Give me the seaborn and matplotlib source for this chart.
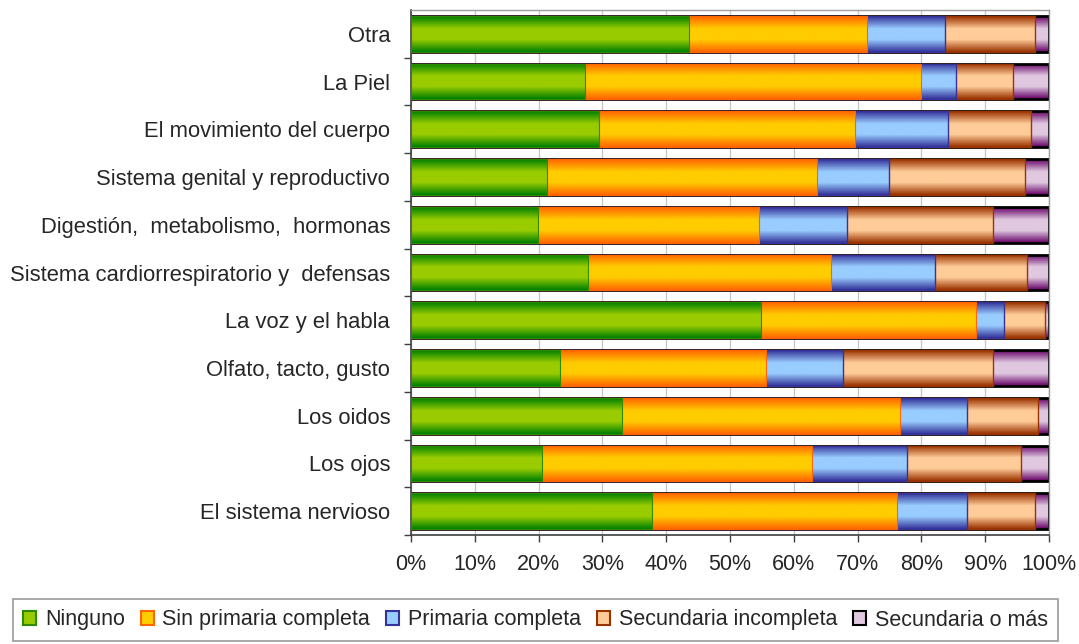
import numpy as np
import pandas as pd
import matplotlib
matplotlib.use("Agg")
import matplotlib.pyplot as plt
import seaborn as sns
from matplotlib.colors import LinearSegmentedColormap
from matplotlib.patches import Patch

categories = [
    "Otra",
    "La Piel",
    "El movimiento del cuerpo",
    "Sistema genital y reproductivo",
    "Digestión,  metabolismo,  hormonas",
    "Sistema cardiorrespiratorio y  defensas",
    "La voz y el habla",
    "Olfato, tacto, gusto",
    "Los oidos",
    "Los ojos",
    "El sistema nervioso",
]
series = ["Ninguno", "Sin primaria completa", "Primaria completa",
          "Secundaria incompleta", "Secundaria o más"]

ninguno = [43.5, 27.2, 29.4, 21.3, 19.9, 27.8, 54.8, 23.4, 33.1, 20.6, 37.8]
sin_primaria = [27.9, 52.7, 40.2, 42.3, 34.6, 38.0, 33.8, 32.3, 43.5, 42.3, 38.4]
primaria = [12.3, 5.6, 14.6, 11.3, 13.8, 16.3, 4.4, 12.0, 10.5, 14.8, 10.9]
sec_incompleta = [14.1, 8.8, 13.0, 21.3, 22.9, 14.5, 6.3, 23.5, 11.2, 17.9, 10.7]
sec_o_mas = [2.2, 5.7, 2.8, 3.8, 8.8, 3.4, 0.7, 8.8, 1.7, 4.4, 2.2]

df = pd.DataFrame({"categoria": categories, series[0]: ninguno, series[1]: sin_primaria,
                   series[2]: primaria, series[3]: sec_incompleta, series[4]: sec_o_mas})

# (edge/dark, center/light, outline, linewidth)
styles = [
    ("#008000", "#99CC00", "#2E8B00", 0.8),
    ("#FF6600", "#FFCC00", "#FF6600", 0.8),
    ("#333399", "#99CCFF", "#333399", 1.0),
    ("#993300", "#FFCC99", "#993300", 1.0),
    ("#660066", "#E0C8E0", "#000000", 2.0),
]

sns.set_style("white")
plt.rcParams["font.family"] = ["Liberation Sans", "DejaVu Sans"]
FS = 15.5

fig = plt.figure(figsize=(10.79, 6.44), dpi=100)
ax = fig.add_axes([411 / 1079, 1 - 535 / 644, (1049 - 411) / 1079, (535 - 10) / 644])

pct = df[series].div(df[series].sum(axis=1), axis=0) * 100
cum = pct.cumsum(axis=1)

# draw cumulative bars from longest to shortest so they stack visually
grad = np.linspace(0, 1, 64).reshape(-1, 1)
for k in range(len(series) - 1, -1, -1):
    dark, light, outline, lw = styles[k]
    n0 = len(ax.patches)
    sns.barplot(x=cum[series[k]], y=df["categoria"], orient="h", color=light,
                width=0.75, edgecolor=outline, linewidth=lw, ax=ax)
    cmap = LinearSegmentedColormap.from_list(
        "g%d" % k, [(0, dark), (0.35, light), (0.65, light), (1, dark)])
    z = 2 + (len(series) - k) * 0.2
    for p in ax.patches[n0:]:
        x0, y0 = p.get_x(), p.get_y()
        w, h = p.get_width(), p.get_height()
        im = ax.imshow(grad, cmap=cmap, extent=[x0, x0 + w, y0 + h, y0],
                       aspect="auto", zorder=z, interpolation="bilinear")
        im.set_clip_path(p)
        p.set_facecolor("none")
        p.set_zorder(z + 0.1)

ax.set_xlim(0, 100)
ax.set_ylim(len(categories) - 0.5, -0.5)
ax.set_xticks(np.arange(0, 101, 10))
ax.set_xticklabels(["%d%%" % v for v in range(0, 101, 10)], fontsize=FS)
ax.set_yticks(range(len(categories)))
ax.set_yticklabels(categories, fontsize=15.8)
ax.set_yticks(np.arange(0.5, len(categories), 1), minor=True)
ax.tick_params(axis="y", which="major", length=0, pad=15)
ax.tick_params(axis="y", which="minor", length=5, width=1, color="#404040", left=True)
ax.tick_params(axis="x", length=5, width=1, color="#404040", bottom=True, pad=9)
ax.set_xlabel("")
ax.set_ylabel("")
ax.grid(axis="x", color="#C8C8C8", linewidth=1)
ax.set_axisbelow(True)
for s in ["top", "right"]:
    ax.spines[s].set_color("#A0A0A0")
    ax.spines[s].set_linewidth(1)
for s in ["left", "bottom"]:
    ax.spines[s].set_color("#404040")
    ax.spines[s].set_linewidth(1.2)

handles = [Patch(facecolor=st[1], edgecolor=st[2], linewidth=1.5) for st in styles]
leg = fig.legend(handles, series, loc="center", bbox_to_anchor=(535.5 / 1079, 1 - 620 / 644),
                 ncol=5, fontsize=FS, frameon=True, fancybox=False, edgecolor="#808080",
                 handlelength=0.6, handleheight=0.6, handletextpad=0.4, columnspacing=0.75,
                 borderpad=0.5, borderaxespad=0)
leg.get_frame().set_linewidth(1.2)

fig.savefig("out.png", dpi=100)
